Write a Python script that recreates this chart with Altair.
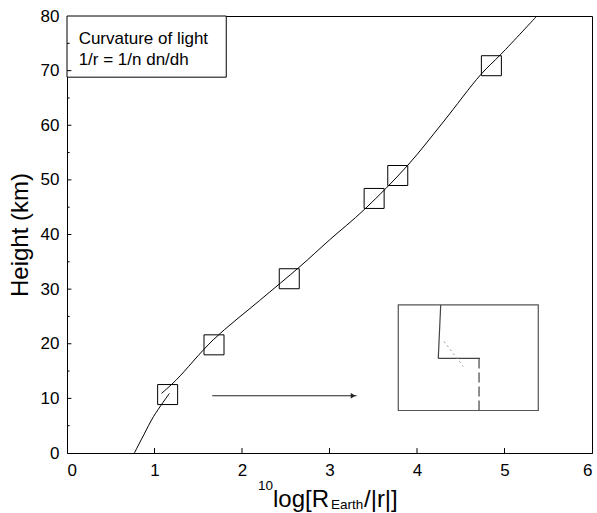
import altair as alt
import pandas as pd

# --- data ---
curve_low_x = [0.77, 0.88, 0.99, 1.17]
curve_low_y = [0.0, 3.4, 6.7, 10.9]
curve_up_x = [1.08, 1.25, 1.67, 2.2, 2.66, 3.0, 3.4, 3.89, 4.3, 4.73, 4.96, 5.37]
curve_up_y = [10.9, 13.4, 20.7, 27.9, 34.1, 39.0, 44.6, 52.6, 60.6, 69.3, 73.0, 80.0]

box_x = [1.15, 1.68, 2.54, 3.51, 3.78, 4.85]
box_y = [10.7, 19.8, 31.9, 46.6, 50.8, 70.9]

legend_lines = ["Curvature of light", "1/r = 1/n dn/dh"]

x_ticks = [0, 1, 2, 3, 4, 5, 6]
y_ticks = [0, 10, 20, 30, 40, 50, 60, 70, 80]
y_minor = [5, 15, 25, 35, 45, 55, 65, 75]

FONT = "Liberation Sans"
W, H = 525, 437

xs = alt.Scale(domain=[0, 6], nice=False)
ys = alt.Scale(domain=[0, 80], nice=False)

curve_df = pd.DataFrame(
    {"x": curve_low_x + curve_up_x,
     "y": curve_low_y + curve_up_y,
     "seg": ["low"] * len(curve_low_x) + ["up"] * len(curve_up_x),
     "i": list(range(len(curve_low_x))) + list(range(len(curve_up_x)))}
)
box_df = pd.DataFrame({"x": box_x, "y": box_y})

base_axis_x = alt.Axis(values=x_ticks, format="d", grid=False, ticks=False, tickSize=0,
                       labelPadding=9, labelFontSize=17, labelFont=FONT, labelColor="black",
                       domainColor="black", title=None)
base_axis_y = alt.Axis(values=y_ticks, format="d", grid=False, ticks=False, tickSize=0,
                       labelPadding=8, labelFontSize=17, labelFont=FONT, labelColor="black",
                       domainColor="black", title="Height (km)", titleFontSize=24,
                       titleFont=FONT, titleFontWeight="normal", titleColor="black",
                       titleX=-40, titleY=H / 2, titleAlign="center", titleBaseline="alphabetic",
                       titleAngle=270)

curve = alt.Chart(curve_df).mark_line(color="black", strokeWidth=1,
                                      interpolate="catmull-rom").encode(
    x=alt.X("x:Q", scale=xs, axis=base_axis_x),
    y=alt.Y("y:Q", scale=ys, axis=base_axis_y),
    detail="seg:N",
    order="i:Q",
)

boxes = alt.Chart(box_df).mark_point(shape="square", filled=False, size=400, color="black",
                                     strokeWidth=1, opacity=1).encode(x="x:Q", y="y:Q")

# legend box
leg_box_df = pd.DataFrame({"x": [0.0], "x2": [1.82], "y": [68.8], "y2": [80.0]})
leg_box = alt.Chart(leg_box_df).mark_rect(fill="white", stroke="black", strokeWidth=1).encode(
    x="x:Q", x2="x2:Q", y="y:Q", y2="y2:Q")
leg_txt_df = pd.DataFrame({"x": [0.133, 0.133], "y": [74.9, 71.0], "t": legend_lines})
leg_txt = alt.Chart(leg_txt_df).mark_text(align="left", baseline="alphabetic", fontSize=17,
                                         font=FONT, color="black").encode(
    x="x:Q", y="y:Q", text="t:N")

# arrow
arrow_df = pd.DataFrame({"x": [1.66], "x2": [3.31], "y": [10.48]})
arrow = alt.Chart(arrow_df).mark_rule(color="#222", strokeWidth=1).encode(x="x:Q", x2="x2:Q", y="y:Q")
head_df = pd.DataFrame({"x": [3.27], "y": [10.48]})
head = alt.Chart(head_df).mark_point(shape="triangle-right", filled=True, size=30, color="#222",
                                     opacity=1).encode(x="x:Q", y="y:Q")

# inset
inset_df = pd.DataFrame({"x": [3.786], "x2": [5.386], "y": [7.78], "y2": [27.1]})
inset = alt.Chart(inset_df).mark_rect(fill=None, stroke="#555", strokeWidth=1.2).encode(
    x="x:Q", x2="x2:Q", y="y:Q", y2="y2:Q")
seg_df = pd.DataFrame({
    "x": [4.271, 4.243],
    "x2": [4.243, 4.72],
    "y": [27.1, 17.32],
    "y2": [17.32, 17.32],
})
segs = alt.Chart(seg_df).mark_rule(color="#444", strokeWidth=1.2).encode(
    x="x:Q", x2="x2:Q", y="y:Q", y2="y2:Q")
dash_df = pd.DataFrame({"x": [4.709], "x2": [4.709], "y": [17.32], "y2": [7.78]})
dash = alt.Chart(dash_df).mark_rule(color="#444", strokeWidth=1.2, strokeDash=[10, 4]).encode(
    x="x:Q", x2="x2:Q", y="y:Q", y2="y2:Q")
dot_df = pd.DataFrame({"x": [4.309], "x2": [4.529], "y": [20.41], "y2": [15.84]})
dot = alt.Chart(dot_df).mark_rule(color="#999", strokeWidth=1, strokeDash=[2, 3]).encode(
    x="x:Q", x2="x2:Q", y="y:Q", y2="y2:Q")

# inward ticks
xt_df = pd.DataFrame({"x": x_ticks[1:-1], "y": [0.0] * 5, "y2": [0.9] * 5})
xt = alt.Chart(xt_df).mark_rule(color="black", strokeWidth=1).encode(x="x:Q", y="y:Q", y2="y2:Q")
yt_df = pd.DataFrame({"y": y_ticks[1:-1] + y_minor, "x": [0.0] * 15,
                      "x2": [0.05] * 7 + [0.03] * 8})
yt = alt.Chart(yt_df).mark_rule(color="black", strokeWidth=1).encode(x="x:Q", x2="x2:Q", y="y:Q")

# x title pieces
xtitle_df = pd.DataFrame({
    "x": [2.183, 2.354, 3.017, 3.394],
    "y": [-6.7, -9.8, -10.3, -9.8],
    "t": ["10", "log[R", "Earth", "/|r|]"],
    "s": [13.5, 24, 13.5, 24],
})
xtitle = alt.Chart(xtitle_df).mark_text(align="left", baseline="alphabetic", font=FONT,
                                       color="black").encode(
    x="x:Q", y="y:Q", text="t:N", size=alt.Size("s:Q", scale=None, legend=None))

chart = alt.layer(curve, boxes, leg_box, leg_txt, arrow, head, inset, segs, dash, dot, xt, yt,
                  xtitle).properties(
    width=W, height=H,
    autosize=alt.AutoSizeParams(type="none"),
    padding={"left": 67, "top": 16, "right": 5, "bottom": 60},
    background="white",
).configure_view(stroke="black", strokeWidth=1)

chart.save("out.html", embed_options={"renderer": "svg", "actions": False})
